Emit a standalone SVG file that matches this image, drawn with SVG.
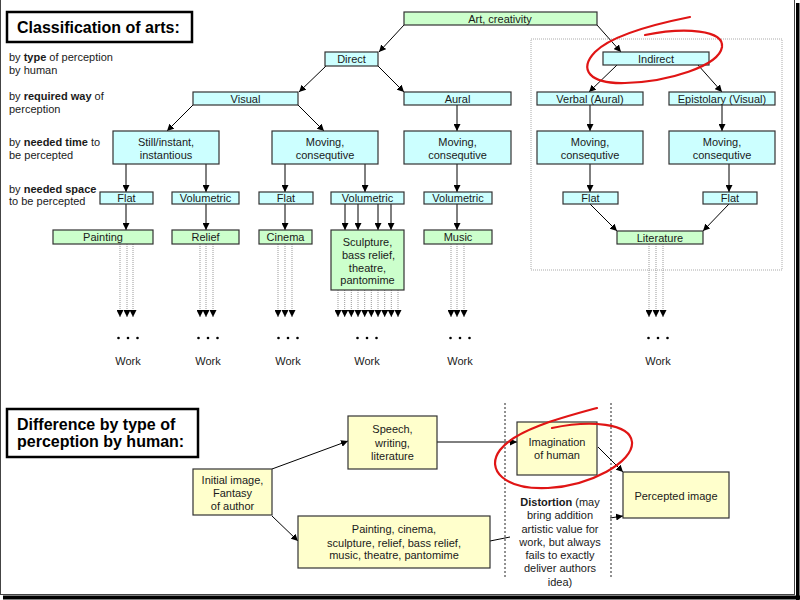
<svg xmlns="http://www.w3.org/2000/svg" width="800" height="600" viewBox="0 0 800 600">
<defs>
<marker id="ah" markerUnits="userSpaceOnUse" markerWidth="8" markerHeight="7" refX="7" refY="3.5" orient="auto"><path d="M0,0 L7,3.5 L0,7 z" fill="#000"/></marker>
<style>
text{font-family:"Liberation Sans",Arial,sans-serif;font-size:11px;fill:#1a1a1a}
.m{text-anchor:middle}
.ttl{font-size:16px;font-weight:bold;fill:#000}
.n rect{stroke:#333;stroke-width:1.2}
.c{fill:#ccffff}.g{fill:#ccffcc}.y{fill:#ffffcc}
.tb{fill:#fff;stroke:#000;stroke-width:2.5}
.a{fill:none;stroke:#000;stroke-width:1;marker-end:url(#ah)}
.d{fill:none;stroke:#999;stroke-width:1;stroke-dasharray:1,1;marker-end:url(#ah)}
.red{fill:none;stroke:#e01515;stroke-width:2.2;stroke-linecap:round}
</style>
</defs>
<rect width="800" height="600" fill="#fff"/>
<!-- frame -->
<rect x="0.5" y="-2" width="794" height="596.5" fill="none" stroke="#444" stroke-width="1"/>
<rect x="796" y="3" width="3.5" height="597" fill="#000"/>
<rect x="3" y="595.5" width="797" height="4" fill="#000"/>

<!-- titles -->
<g id="title1"><rect class="tb" x="7" y="12" width="185" height="30"/><text class="ttl" x="17" y="32.5">Classification of arts:</text></g>
<g id="title2"><rect class="tb" x="7" y="409" width="191" height="48"/><text class="ttl" x="17" y="429.5">Difference by type of</text><text class="ttl" x="17" y="447">perception by human:</text></g>

<!-- left labels -->
<g id="labels">
<text x="9" y="61">by <tspan font-weight="bold">type</tspan> of perception</text>
<text x="9" y="74">by human</text>
<text x="9" y="100">by <tspan font-weight="bold">required way</tspan> of</text>
<text x="9" y="113">perception</text>
<text x="9" y="146">by <tspan font-weight="bold">needed time</tspan> to</text>
<text x="9" y="159">be percepted</text>
<text x="9" y="192.5">by <tspan font-weight="bold">needed space</tspan></text>
<text x="9" y="205">to be percepted</text>
</g>

<rect id="indirectArea" x="531" y="39" width="251" height="231" fill="none" stroke="#aaa" stroke-dasharray="1,1"/>

<!-- connectors -->
<g id="connectors">
<path class="a" d="M404,25 L379,52"/>
<path class="a" d="M597,25 L621,52"/>
<path class="a" d="M326,66 L299,92"/>
<path class="a" d="M378,66 L404,92"/>
<path class="a" d="M193,105 L167,131"/>
<path class="a" d="M298,105 L324,131"/>
<path class="a" d="M457,105 V131"/>
<path class="a" d="M617,65 L589,92"/>
<path class="a" d="M698,65 L722,92"/>
<path class="a" d="M590,105 V131"/>
<path class="a" d="M722,105 V131"/>
<path class="a" d="M126,164 V192"/>
<path class="a" d="M206,164 V192"/>
<path class="a" d="M285,164 V192"/>
<path class="a" d="M365,164 V192"/>
<path class="a" d="M457,164 V192"/>
<path class="a" d="M590,164 V192"/>
<path class="a" d="M729,164 V192"/>
<path class="a" d="M126,204 V230"/>
<path class="a" d="M206,204 V230"/>
<path class="a" d="M285,204 V230"/>
<path class="a" d="M345,204 V230"/>
<path class="a" d="M358,204 V230"/>
<path class="a" d="M378,204 V230"/>
<path class="a" d="M391,204 V230"/>
<path class="a" d="M457,204 V230"/>
<path class="a" d="M590,204 L617,231"/>
<path class="a" d="M729,204 L703,231"/>
<!-- dotted work arrows -->
<path class="d" d="M120,244 V317"/><path class="d" d="M127,244 V317"/><path class="d" d="M133,244 V317"/>
<path class="d" d="M200,244 V317"/><path class="d" d="M206,244 V317"/><path class="d" d="M213,244 V317"/>
<path class="d" d="M278,244 V317"/><path class="d" d="M285,244 V317"/><path class="d" d="M292,244 V317"/>
<path class="d" d="M338,290 V317"/><path class="d" d="M344.7,290 V317"/><path class="d" d="M351.3,290 V317"/><path class="d" d="M358,290 V317"/><path class="d" d="M364.7,290 V317"/><path class="d" d="M371.3,290 V317"/><path class="d" d="M378,290 V317"/><path class="d" d="M384.7,290 V317"/><path class="d" d="M391.3,290 V317"/><path class="d" d="M398,290 V317"/>
<path class="d" d="M451,244 V317"/><path class="d" d="M457,244 V317"/><path class="d" d="M464,244 V317"/>
<path class="d" d="M649,244 V317"/><path class="d" d="M656,244 V317"/><path class="d" d="M663,244 V317"/>
<!-- bottom -->
<path class="a" d="M272,469 L348,441"/>
<path class="a" d="M272,516 L298,541"/>
<path class="a" d="M437,442 H517"/>
<path fill="none" stroke="#000" d="M490,541 L510,537"/>
<path class="a" d="M610,518 L623,516"/>
<path class="a" d="M598,447 L623,472"/>
<path fill="none" stroke="#222" stroke-dasharray="2,2" d="M505,403 V578 M611,403 V578"/>
</g>

<!-- nodes -->
<g id="art" class="n"><rect class="g" x="404" y="12" width="193" height="13"/><text class="m" x="500" y="23">Art, creativity</text></g>
<g id="direct" class="n"><rect class="c" x="325" y="52" width="53" height="14"/><text class="m" x="351.5" y="63">Direct</text></g>
<g id="indirect" class="n"><rect class="c" x="603" y="52" width="106" height="13"/><text class="m" x="656" y="62.5">Indirect</text></g>
<g id="visual" class="n"><rect class="c" x="193" y="92" width="105" height="13"/><text class="m" x="245.5" y="102.5">Visual</text></g>
<g id="aural" class="n"><rect class="c" x="404" y="92" width="107" height="13"/><text class="m" x="457.5" y="102.5">Aural</text></g>
<g id="verbal" class="n"><rect class="c" x="537" y="92" width="106" height="13"/><text class="m" x="590" y="102.5">Verbal (Aural)</text></g>
<g id="epistolary" class="n"><rect class="c" x="669" y="92" width="106" height="13"/><text class="m" x="722" y="102.5">Epistolary (Visual)</text></g>
<g id="still" class="n"><rect class="c" x="113" y="131" width="106" height="33"/><text class="m" x="166" y="146">Still/instant,</text><text class="m" x="166" y="158.5">instantious</text></g>
<g id="moving1" class="n"><rect class="c" x="272" y="131" width="106" height="33"/><text class="m" x="325" y="146">Moving,</text><text class="m" x="325" y="158.5">consequtive</text></g>
<g id="moving2" class="n"><rect class="c" x="404" y="131" width="107" height="33"/><text class="m" x="457.5" y="146">Moving,</text><text class="m" x="457.5" y="158.5">consequtive</text></g>
<g id="moving3" class="n"><rect class="c" x="537" y="131" width="106" height="33"/><text class="m" x="590" y="146">Moving,</text><text class="m" x="590" y="158.5">consequtive</text></g>
<g id="moving4" class="n"><rect class="c" x="669" y="131" width="106" height="33"/><text class="m" x="722" y="146">Moving,</text><text class="m" x="722" y="158.5">consequtive</text></g>
<g id="flat1" class="n"><rect class="c" x="100" y="192" width="53" height="12"/><text class="m" x="126.5" y="202">Flat</text></g>
<g id="vol1" class="n"><rect class="c" x="172" y="192" width="67" height="12"/><text class="m" x="205.5" y="202">Volumetric</text></g>
<g id="flat2" class="n"><rect class="c" x="259" y="192" width="54" height="12"/><text class="m" x="286" y="202">Flat</text></g>
<g id="vol2" class="n"><rect class="c" x="331" y="192" width="73" height="12"/><text class="m" x="367.5" y="202">Volumetric</text></g>
<g id="vol3" class="n"><rect class="c" x="424" y="192" width="68" height="12"/><text class="m" x="458" y="202">Volumetric</text></g>
<g id="flat3" class="n"><rect class="c" x="563" y="192" width="55" height="12"/><text class="m" x="590.5" y="202">Flat</text></g>
<g id="flat4" class="n"><rect class="c" x="703" y="192" width="54" height="12"/><text class="m" x="730" y="202">Flat</text></g>
<g id="painting" class="n"><rect class="g" x="53" y="230" width="100" height="14"/><text class="m" x="103" y="241">Painting</text></g>
<g id="relief" class="n"><rect class="g" x="172" y="230" width="67" height="14"/><text class="m" x="205.5" y="241">Relief</text></g>
<g id="cinema" class="n"><rect class="g" x="259" y="230" width="53" height="14"/><text class="m" x="285.5" y="241">Cinema</text></g>
<g id="sculpture" class="n"><rect class="g" x="331" y="230" width="73" height="60"/><text class="m" x="367.5" y="246">Sculpture,</text><text class="m" x="368.5" y="258.5">bass relief,</text><text class="m" x="367.5" y="271.5">theatre,</text><text class="m" x="367.5" y="284">pantomime</text></g>
<g id="music" class="n"><rect class="g" x="424" y="230" width="68" height="14"/><text class="m" x="458" y="241">Music</text></g>
<g id="literature" class="n"><rect class="g" x="617" y="231" width="86" height="13"/><text class="m" x="660" y="241.5">Literature</text></g>

<!-- work -->
<g id="works" fill="#000">
<circle cx="118.5" cy="338" r="1.3"/><circle cx="128" cy="338" r="1.3"/><circle cx="137.5" cy="338" r="1.3"/>
<circle cx="198.5" cy="338" r="1.3"/><circle cx="208" cy="338" r="1.3"/><circle cx="217.5" cy="338" r="1.3"/>
<circle cx="278.5" cy="338" r="1.3"/><circle cx="288" cy="338" r="1.3"/><circle cx="297.5" cy="338" r="1.3"/>
<circle cx="357.5" cy="338" r="1.3"/><circle cx="367" cy="338" r="1.3"/><circle cx="376.5" cy="338" r="1.3"/>
<circle cx="450.5" cy="338" r="1.3"/><circle cx="460" cy="338" r="1.3"/><circle cx="469.5" cy="338" r="1.3"/>
<circle cx="648.5" cy="338" r="1.3"/><circle cx="658" cy="338" r="1.3"/><circle cx="667.5" cy="338" r="1.3"/>
<text class="m" x="128" y="365">Work</text>
<text class="m" x="208" y="365">Work</text>
<text class="m" x="288" y="365">Work</text>
<text class="m" x="367" y="365">Work</text>
<text class="m" x="460" y="365">Work</text>
<text class="m" x="658" y="365">Work</text>
</g>

<!-- bottom nodes -->
<g id="initial" class="n"><rect class="y" x="193" y="469" width="79" height="46"/><text class="m" x="232.5" y="484">Initial image,</text><text class="m" x="232.5" y="497">Fantasy</text><text class="m" x="232.5" y="510">of author</text></g>
<g id="speech" class="n"><rect class="y" x="348" y="416" width="89" height="53"/><text class="m" x="392.5" y="433">Speech,</text><text class="m" x="392.5" y="447">writing,</text><text class="m" x="392.5" y="460">literature</text></g>
<g id="painting2" class="n"><rect class="y" x="298" y="516" width="192" height="52"/><text class="m" x="394" y="533">Painting, cinema,</text><text class="m" x="394" y="547">sculpture, relief, bass relief,</text><text class="m" x="394" y="559">music, theatre, pantomime</text></g>
<g id="imagination" class="n"><rect class="y" x="517" y="422" width="80" height="53"/><text class="m" x="557" y="446">Imagination</text><text class="m" x="557" y="459">of human</text></g>
<g id="percepted" class="n"><rect class="y" x="623" y="472" width="106" height="46"/><text class="m" x="676" y="500">Percepted image</text></g>
<g id="distortion">
<text class="m" x="560" y="506"><tspan font-weight="bold">Distortion</tspan> (may</text>
<text class="m" x="560" y="519">bring addition</text>
<text class="m" x="560" y="532.5">artistic value for</text>
<text class="m" x="560" y="546">work, but always</text>
<text class="m" x="560" y="559">fails to exactly</text>
<text class="m" x="560" y="572">deliver authors</text>
<text class="m" x="560" y="586">idea)</text>
</g>

<!-- red annotations -->
<path class="red" d="M645,35 C685,27 724,30 722,47 C719,66 668,82 625,83 C590,84 578,70 595,52 C612,35 655,24 690,17"/>
<path class="red" d="M552,428 C590,420 630,423 632,442 C634,462 590,486 548,488 C505,490 485,470 500,450 C515,430 560,418 597,408"/>
</svg>
